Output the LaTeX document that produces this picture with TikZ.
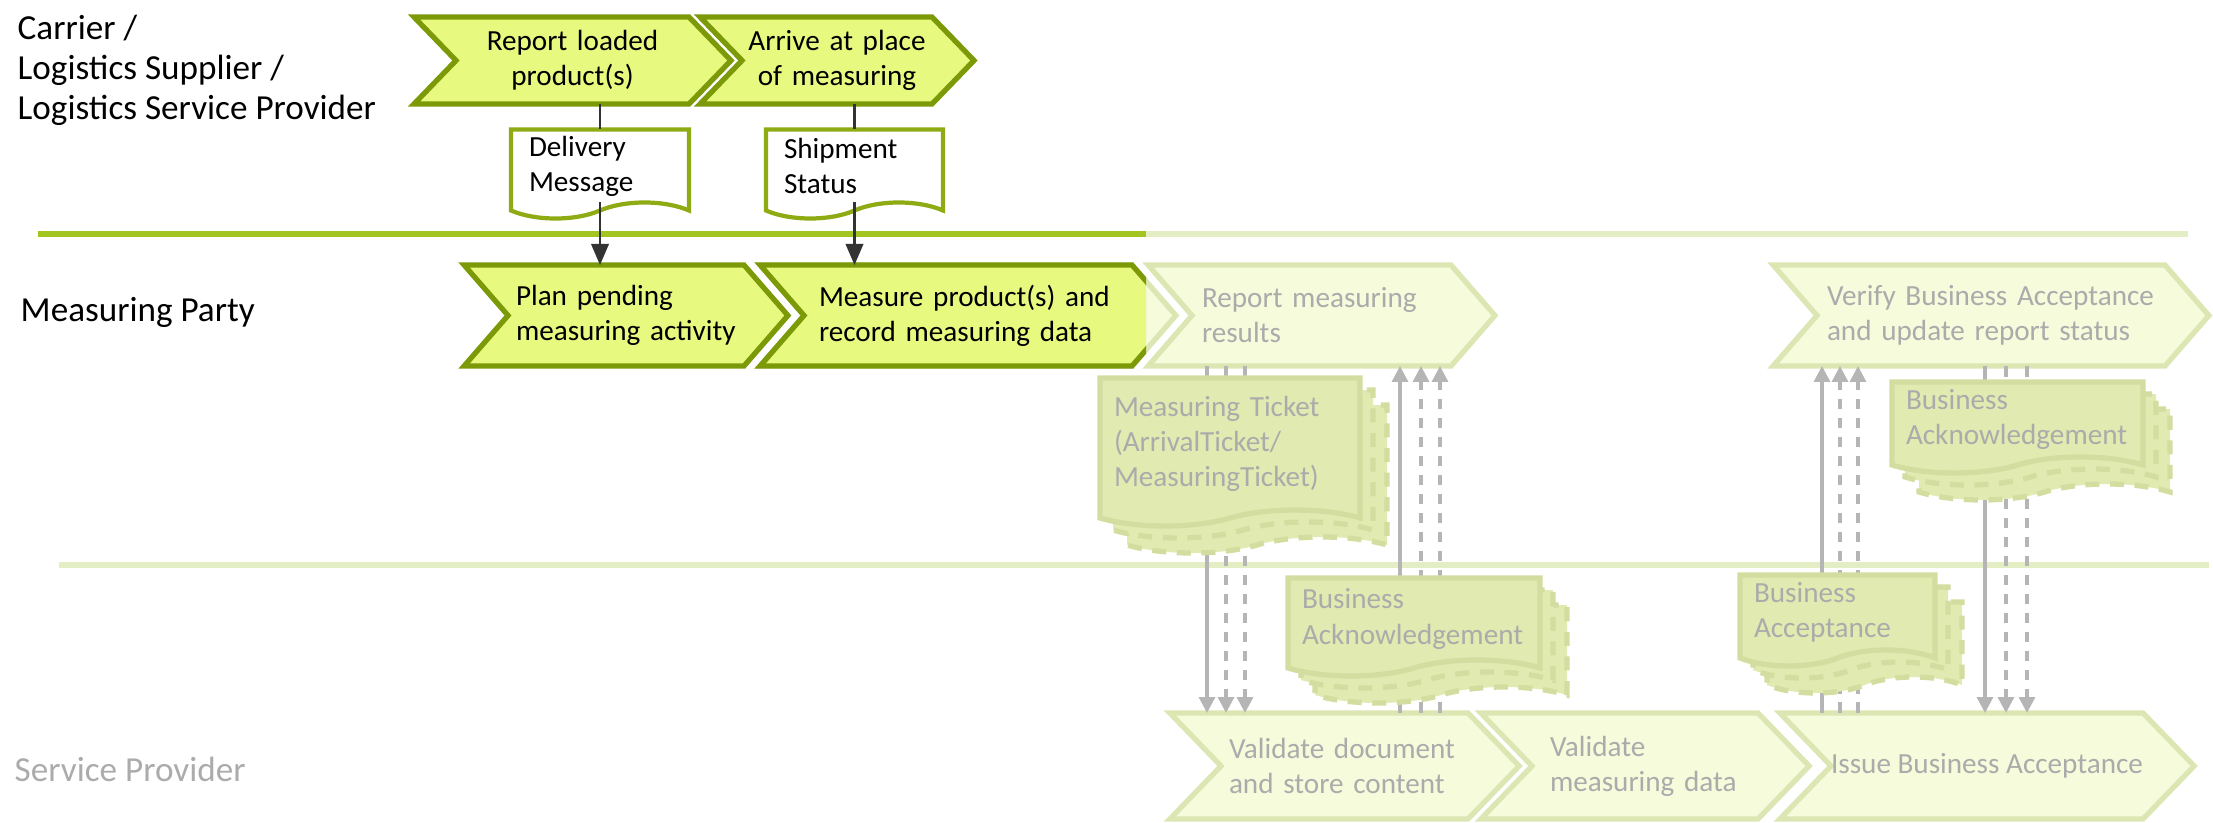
\documentclass[tikz,border=0pt]{standalone}
\usepackage{fontspec}
\setmainfont{Carlito}
\usetikzlibrary{shapes.symbols,arrows.meta}
\definecolor{laneon}{HTML}{A3C520}
\definecolor{laneoff}{HTML}{E4EEC4}
\definecolor{stepfill}{HTML}{E8F980}
\definecolor{stepline}{HTML}{7C9A08}
\definecolor{docline}{HTML}{8EAB14}
\definecolor{fadefill}{HTML}{F5FBDB}
\definecolor{fadeline}{HTML}{DCE6B3}
\definecolor{fadedocfill}{HTML}{E1EAB0}
\definecolor{fadedocline}{HTML}{D3DDA0}
\definecolor{fadetext}{HTML}{ABABAB}
\definecolor{msggray}{HTML}{B5B5B5}
\tikzset{
  lanelabel/.style={font=\fontsize{10}{11.4}\selectfont, anchor=west, inner sep=0pt, align=left},
  laneline/.style={line width=1.7pt, draw=laneon},
  laneline off/.style={line width=1.5pt, draw=laneoff},
  stepbox/.style={shape=signal, signal from=west, signal to=east, line width=1.5pt, font=\fontsize{8.3}{10}\selectfont, inner xsep=0.1cm, inner ysep=0pt, outer sep=0pt},
  stepon/.style={stepbox, fill=stepfill, draw=stepline, text=black},
  stepoff/.style={stepbox, fill=fadefill, draw=fadeline, text=fadetext},
  docbox/.style={shape=tape, tape bend top=none, tape bend bottom=in and out, tape bend height=0.16cm, font=\fontsize{8.3}{10}\selectfont, inner xsep=0.14cm, inner ysep=0pt, outer sep=0pt, align=left},
  docon/.style={docbox, fill=white, draw=docline, line width=1.2pt},
  docoff/.style={docbox, fill=fadedocfill, draw=fadedocline, line width=1.5pt, text=fadetext},
  docback/.style={docoff, dash pattern=on 4pt off 3pt},
  conn/.style={draw=black!80, line width=0.6pt},
  conntip/.style={-{Triangle[width=5pt,length=6pt]}},
  msg/.style={draw=msggray, line width=0.9pt},
  msgdash/.style={msg, dash pattern=on 3pt off 2.4pt},
  msgtip/.style={-{Triangle[width=4.5pt,length=4.5pt]}},
}
\begin{document}
\begin{tikzpicture}
\useasboundingbox (0,0) rectangle (22.13,8.22);
% lanes
\node[lanelabel, anchor=north west] (carrier) at (0.17,8.08) {Carrier /\\Logistics Supplier /\\Logistics Service Provider};
\node[lanelabel] (party) at (0.20,5.10) {Measuring Party};
\node[lanelabel, text=fadetext] (provider) at (0.14,0.53) {Service Provider};
\draw[laneline] (0.38,5.88) -- (11.46,5.88);
\draw[laneline off] (11.46,5.88) -- (21.88,5.88);
\draw[laneline off] (0.59,2.57) -- (22.09,2.57);
% faded steps
\node[stepoff, signal pointer angle=98, minimum height=1.01cm, text width=2.39cm, align=left] (f1) at (13.215,5.065) {Report measuring\\results};
\node[stepoff, signal pointer angle=98, minimum height=1.01cm, text width=3.28cm, inner xsep=0.1cm, align=left] (f2) at (19.91,5.065) {Verify Business Acceptance\\and update report status};
\node[stepoff, signal pointer angle=92, minimum height=1.06cm, text width=2.31cm, inner xsep=0.08cm, align=left] (s1) at (13.445,0.56) {Validate document\\and store content};
\node[stepoff, signal pointer angle=92, minimum height=1.06cm, text width=1.90cm, inner xsep=0.18cm, align=left] (s2) at (16.45,0.56) {Validate\\measuring data};
\node[stepoff, signal pointer angle=92, minimum height=1.06cm, inner xsep=0pt] (s3) at (19.87,0.56) {Issue Business Acceptance};
\node[stepoff, signal pointer angle=98, minimum height=1.01cm, text width=3.08cm] (p2fade) at (9.68,5.065) {};
% active steps
\node[stepon, signal pointer angle=92, minimum height=0.87cm, text width=2.13cm, align=center] (c1) at (5.725,7.615) {Report loaded\\product(s)};
\node[stepon, signal pointer angle=92, minimum height=0.87cm, text width=1.80cm, inner xsep=0.05cm, align=center] (c2) at (8.37,7.615) {Arrive at place\\of measuring};
\node[stepon, signal pointer angle=98, minimum height=1.01cm, text width=2.20cm, inner xsep=0.08cm, align=left] (p1) at (6.26,5.065) {Plan pending\\measuring activity};
\begin{scope}
\clip (0,0) rectangle (11.46,8.22);
\node[stepon, signal pointer angle=98, minimum height=1.01cm, text width=2.98cm, inner xsep=0.15cm, align=left] (p2) at (9.68,5.065) {Measure product(s) and\\record measuring data};
\end{scope}
% messages to and from the service provider
\foreach \dx/\sty in {-1.145/msg, -0.955/msgdash, -0.765/msgdash}
  \draw[\sty, msgtip] ([xshift=\dx cm]f1.south) -- ([xshift=\dx cm]f1.south |- s1.north);
\foreach \dx/\sty in {0.785/msg, 0.995/msgdash, 1.185/msgdash}
  \draw[\sty, msgtip] ([xshift=\dx cm]f1.south |- s1.north) -- ([xshift=\dx cm]f1.south);
\foreach \dx/\sty in {-1.69/msg, -1.51/msgdash, -1.33/msgdash}
  \draw[\sty, msgtip] ([xshift=\dx cm]f2.south |- s3.north) -- ([xshift=\dx cm]f2.south);
\foreach \dx/\sty in {-0.06/msg, 0.15/msgdash, 0.36/msgdash}
  \draw[\sty, msgtip] ([xshift=\dx cm]f2.south) -- ([xshift=\dx cm]f2.south |- s3.north);
% faded documents
\node[docback, text width=2.32cm, minimum height=1.48cm] (mt3) at (12.57,3.51) {};
\node[docback, text width=2.32cm, minimum height=1.48cm] (mt2) at (12.43,3.66) {};
\node[docoff, text width=2.32cm, minimum height=1.48cm] (mt) at (12.30,3.78) {Measuring Ticket\\(ArrivalTicket/\\MeasuringTicket)};
\node[docback, text width=2.24cm, minimum height=0.98cm] (ba3) at (14.41,1.76) {};
\node[docback, text width=2.24cm, minimum height=0.98cm] (ba2) at (14.27,1.91) {};
\node[docoff, text width=2.24cm, minimum height=0.98cm] (ba) at (14.14,2.03) {Business\\Acknowledgement};
\node[docback, text width=2.23cm, minimum height=0.91cm] (bk3) at (20.445,3.755) {};
\node[docback, text width=2.23cm, minimum height=0.91cm] (bk2) at (20.305,3.905) {};
\node[docoff, text width=2.23cm, minimum height=0.91cm] (bk) at (20.175,4.025) {Business\\Acknowledgement};
\node[docback, text width=1.67cm, minimum height=0.91cm] (acc3) at (18.645,1.825) {};
\node[docback, text width=1.67cm, minimum height=0.91cm] (acc2) at (18.505,1.975) {};
\node[docoff, text width=1.67cm, minimum height=0.91cm] (acc) at (18.375,2.095) {Business\\Acceptance};
% carrier documents
\node[docon, text width=1.42cm, inner xsep=0.18cm, minimum height=0.89cm] (d1) at (6.00,6.56) {Delivery\\Message};
\node[docon, text width=1.41cm, inner xsep=0.18cm, minimum height=0.89cm] (d2) at (8.545,6.56) {Shipment\\Status};
\draw[conn] (c1.south -| d1.north) -- (d1.north);
\draw[conn, conntip] (d1.south) -- (d1.south |- p1.north);
\draw[conn] (c2.south -| d2.north) -- (d2.north);
\draw[conn, conntip] (d2.south) -- (d2.south |- p2.north);
\end{tikzpicture}
\end{document}
